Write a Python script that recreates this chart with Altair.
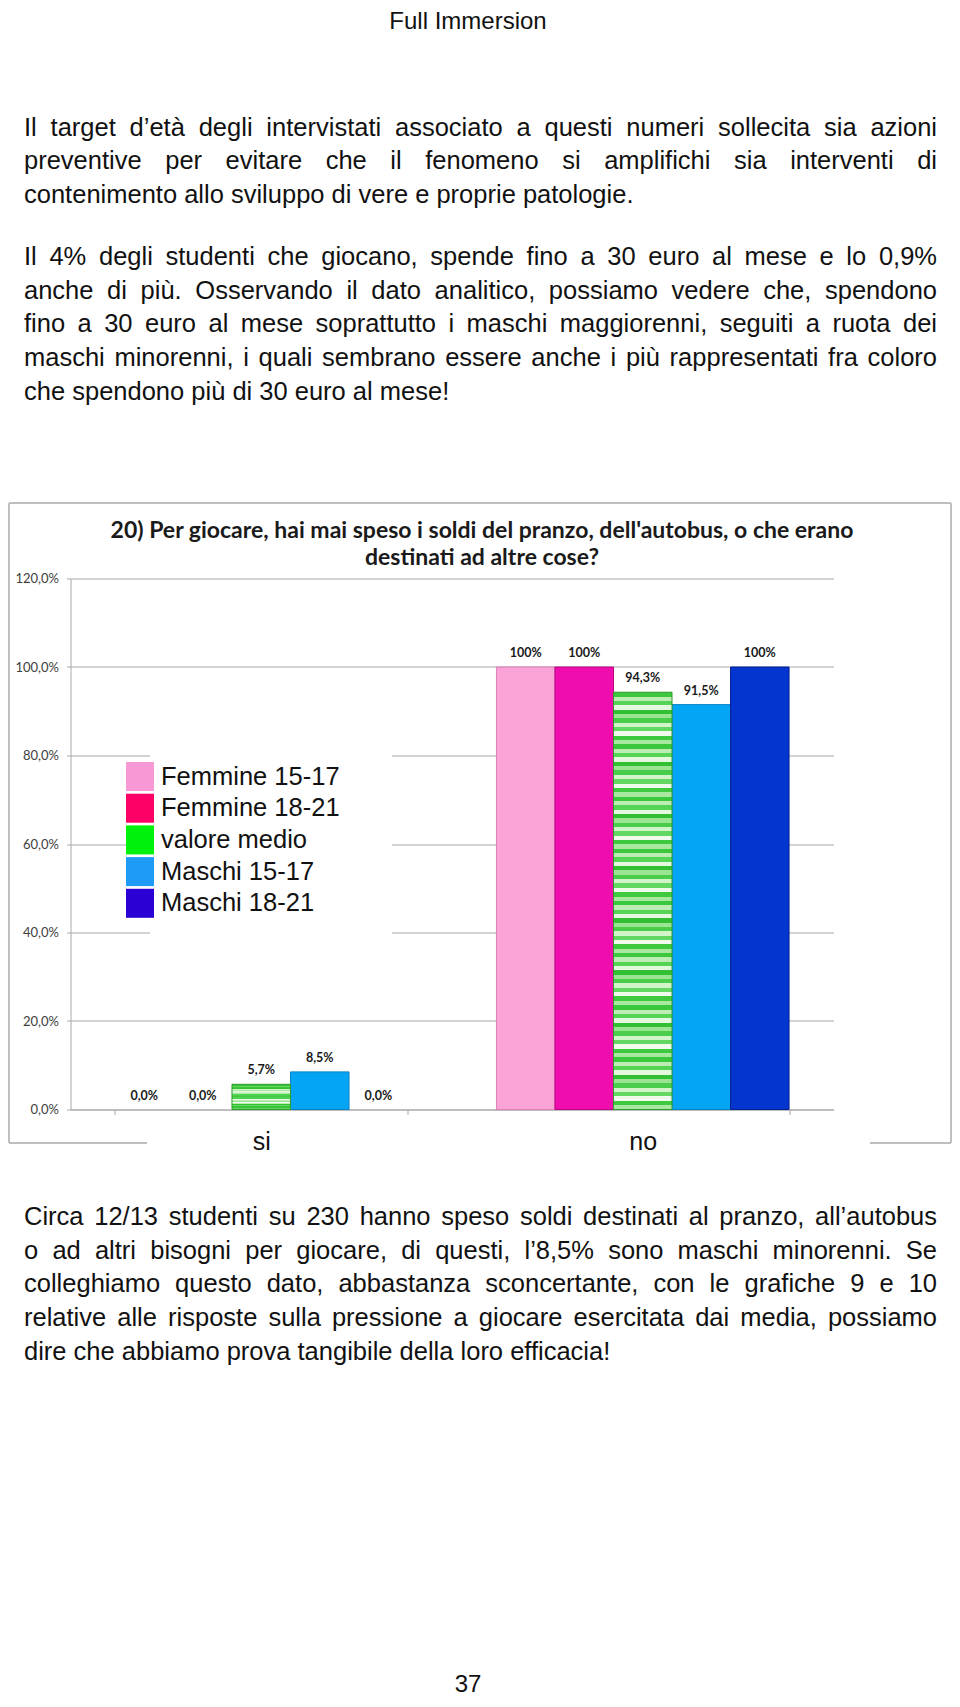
import altair as alt
import pandas as pd

# ---------------- data ----------------
categories = ["si", "no"]
series = ["Femmine 15-17", "Femmine 18-21", "valore medio", "Maschi 15-17", "Maschi 18-21"]
si_values = [0.0, 0.0, 5.7, 8.5, 0.0]
no_values = [100.0, 100.0, 94.3, 91.5, 100.0]
si_labels = ["0,0%", "0,0%", "5,7%", "8,5%", "0,0%"]
no_labels = ["100%", "100%", "94,3%", "91,5%", "100%"]
y_ticks = [0.0, 0.2, 0.4, 0.6, 0.8, 1.0, 1.2]

bar_colors = ["#F9A3D7", "#F00DAE", "#5BD65B", "#05A5F5", "#0535CF"]
bar_edges = ["#E07DBA", "#B8087F", "#2F9A2F", "#0A82C4", "#03228F"]
legend_colors = ["#F799D4", "#FF0066", "#00F20C", "#1E9BF7", "#2A00D4"]
stripe_colors = ["#3CC83C", "#BDEDB4", "#56D456", "#E3F8DE", "#33BF33", "#9BE592",
                 "#4ACD4A", "#D2F4CB", "#62D862", "#F0FBEE", "#3FC93F", "#A8E8A0"]

header = "Full Immersion"
page_number = "37"
chart_title = ["20) Per giocare, hai mai speso i soldi del pranzo, dell'autobus, o che erano",
               "destinati ad altre cose?"]
para1 = ["Il target d\u2019et\u00e0 degli intervistati associato a questi numeri sollecita sia azioni",
         "preventive per evitare che il fenomeno si amplifichi sia interventi di",
         "contenimento allo sviluppo di vere e proprie patologie."]
para2 = ["Il 4% degli studenti che giocano, spende fino a 30 euro al mese e lo  0,9%",
         "anche di pi\u00f9. Osservando il dato analitico, possiamo vedere che, spendono",
         "fino a 30 euro al mese soprattutto i maschi maggiorenni, seguiti a ruota dei",
         "maschi minorenni, i quali sembrano essere anche i pi\u00f9 rappresentati fra coloro",
         "che spendono pi\u00f9 di 30 euro al mese!"]
para3 = ["Circa 12/13 studenti su 230 hanno speso soldi destinati al pranzo, all\u2019autobus",
         "o ad altri bisogni per giocare, di questi, l\u20198,5% sono maschi minorenni. Se",
         "colleghiamo questo dato, abbastanza sconcertante, con le grafiche 9 e 10",
         "relative alle risposte sulla pressione a giocare esercitata dai media, possiamo",
         "dire che abbiamo prova tangibile della loro efficacia!"]

# ---------------- page geometry ----------------
OX, OY = 70.5, 578.5       # page position of plot origin
W, H = 763, 531
PAD = {"left": OX - 8, "top": OY - 8, "right": 960 - 16 - (OX - 8) - W, "bottom": 1691 - (OY - 8) - H}


def rx(X):
    return X - OX


def ry(Y):
    return Y - OY


one = pd.DataFrame({"d": [0]})

# ---------------- bars ----------------
rows = []
for ci, cat in enumerate(categories):
    vals = si_values if ci == 0 else no_values
    labs = si_labels if ci == 0 else no_labels
    for s, v, l in zip(series, vals, labs):
        rows.append({"category": cat, "series": s, "value": v / 100.0, "label": l})
df = pd.DataFrame(rows)

GRID = "#A8A8A8"
x_enc = alt.X("category:N", sort=categories,
              scale=alt.Scale(domain=categories, paddingInner=0.233, paddingOuter=0.1165),
              axis=alt.Axis(title=None, labelAngle=0, labelFont="Liberation Sans", labelFontSize=25,
                            labelColor="#111111", labelBaseline="middle", labelPadding=27,
                            ticks=True, tickBand="extent", tickSize=5, tickColor=GRID,
                            domainColor=GRID, grid=False))
xo_enc = alt.XOffset("series:N", sort=series,
                     scale=alt.Scale(domain=series, paddingInner=0, paddingOuter=0))
y_enc = alt.Y("value:Q", scale=alt.Scale(domain=[0, 1.2], nice=False, zero=True),
              axis=alt.Axis(title=None, values=y_ticks,
                            labelExpr="replace(format(datum.value, '.1%'), '.', ',')",
                            labelFont="Lato", labelFontSize=13, labelColor="#404040",
                            labelPadding=8, tickSize=4, tickColor=GRID, domainColor=GRID,
                            grid=True, gridColor=GRID, gridWidth=1.2))

base = alt.Chart(df)
bars = base.transform_filter("datum.series != 'valore medio' && datum.value > 0").mark_bar(
    strokeWidth=1).encode(
    x=x_enc, xOffset=xo_enc, y=y_enc,
    color=alt.Color("series:N", scale=alt.Scale(domain=series, range=bar_colors), legend=None),
    stroke=alt.Stroke("series:N", scale=alt.Scale(domain=series, range=bar_edges), legend=None),
)

stops = []
n_stripes = 96
for i in range(n_stripes):
    c = stripe_colors[i % len(stripe_colors)]
    stops.append(alt.GradientStop(offset=i / n_stripes, color=c))
    stops.append(alt.GradientStop(offset=(i + 1) / n_stripes, color=c))
stripes = alt.LinearGradient(gradient="linear", stops=stops, x1=0, x2=0, y1=0, y2=1)

green = base.transform_filter("datum.series == 'valore medio' && datum.value > 0").mark_bar(
    fill=stripes, stroke="#2F9A2F", strokeWidth=1).encode(x=x_enc, xOffset=xo_enc, y=y_enc)

labels = base.mark_text(font="Lato", fontSize=12.5, fontWeight="bold", color="#1A1A1A",
                        baseline="middle", dy=-14).encode(
    x=x_enc, xOffset=xo_enc, y=y_enc, text="label:N")

# ---------------- frame ----------------
FRAME = "#BFBFBF"
FL, FR = 9, 951
frame_layers = []
for (x1, x2, y1) in [(FL, FR, 503), (FL, 147, 1143), (870, FR, 1143)]:
    frame_layers.append(alt.Chart(one).mark_rule(color=FRAME, strokeWidth=2).encode(
        x=alt.value(rx(x1)), x2=alt.value(rx(x2)), y=alt.value(ry(y1))))
for xx in [FL, FR]:
    frame_layers.append(alt.Chart(one).mark_rule(color=FRAME, strokeWidth=2).encode(
        x=alt.value(rx(xx)), y=alt.value(ry(503)), y2=alt.value(ry(1143))))

# ---------------- legend (pasted box) ----------------
legend_layers = [alt.Chart(one).mark_rect(fill="white").encode(
    x=alt.value(rx(150)), x2=alt.value(rx(392)), y=alt.value(ry(748)), y2=alt.value(ry(938)))]
for i, (s, c) in enumerate(zip(series, legend_colors)):
    top = 762 + i * 31.7
    legend_layers.append(alt.Chart(one).mark_rect(fill=c).encode(
        x=alt.value(rx(126)), x2=alt.value(rx(154)), y=alt.value(ry(top)), y2=alt.value(ry(top + 29))))
    legend_layers.append(alt.Chart(one).mark_text(
        text=s, font="Liberation Sans", fontSize=25.5, color="#111111", align="left", baseline="middle").encode(
        x=alt.value(rx(161)), y=alt.value(ry(top + 14.5))))

# ---------------- chart title ----------------
title_layers = []
for t, Y in zip(chart_title, [531, 558]):
    title_layers.append(alt.Chart(one).mark_text(
        text=t, font="Lato", fontSize=23, fontWeight="bold", color="#1A1A1A",
        align="center", baseline="middle").encode(x=alt.value(rx(482)), y=alt.value(ry(Y))))

# ---------------- page text ----------------
ARIAL = {" ": 278, "!": 278, "%": 889, "'": 191, "\u2019": 222, ",": 278, "-": 333, ".": 278, "/": 278,
         "?": 556, ":": 278,
         "A": 667, "B": 667, "C": 722, "D": 722, "E": 667, "F": 611, "G": 778, "H": 722, "I": 278,
         "L": 556, "M": 833, "N": 722, "O": 778, "P": 667, "R": 722, "S": 667, "T": 611,
         "a": 556, "b": 556, "c": 500, "d": 556, "e": 556, "f": 278, "g": 556, "h": 556, "i": 222,
         "j": 222, "k": 500, "l": 222, "m": 833, "n": 556, "o": 556, "p": 556, "q": 556, "r": 333,
         "s": 500, "t": 278, "u": 556, "v": 500, "w": 722, "x": 500, "y": 500, "z": 500,
         "\u00e0": 556, "\u00f9": 556, "\u00e8": 556, "\u00e9": 556, "\u00f2": 556}
FS = 25.5
LEFT, RIGHT = 24, 937


def tw(s):
    return sum(ARIAL.get(ch, 556) for ch in s) * FS / 1000.0


word_rows = []


def place(lines, ys):
    for k, (line, Y) in enumerate(zip(lines, ys)):
        words = line.split()
        last = k == len(lines) - 1
        widths = [tw(w) for w in words]
        if last or len(words) < 2:
            gap = tw(" ")
        else:
            gap = max(0.18 * FS, (RIGHT - LEFT - sum(widths)) / (len(words) - 1))
        X = LEFT
        for w, wd in zip(words, widths):
            word_rows.append({"word": w, "px": rx(X), "py": ry(Y)})
            X += wd + gap


place(para1, [127.5, 161.2, 195])
place(para2, [257, 290.7, 324.4, 358, 391.8])
place(para3, [1217, 1250.7, 1284.4, 1318, 1351.8])
words_df = pd.DataFrame(word_rows)

page_text = alt.Chart(words_df).mark_text(
    font="Liberation Sans", fontSize=FS, color="#111111", align="left", baseline="middle").encode(
    x=alt.X("px:Q", scale=None, axis=None), y=alt.Y("py:Q", scale=None, axis=None), text="word:N")

head = alt.Chart(one).mark_text(text=header, font="Liberation Sans", fontSize=24, color="#111111",
                                align="center", baseline="top").encode(
    x=alt.value(rx(468)), y=alt.value(ry(10)))
pnum = alt.Chart(one).mark_text(text=page_number, font="Liberation Sans", fontSize=24, color="#111111",
                                align="center", baseline="middle").encode(
    x=alt.value(rx(468)), y=alt.value(ry(1685)))

chart = alt.layer(
    *frame_layers, bars, green, labels, *legend_layers, *title_layers, page_text, head, pnum
).properties(
    width=W, height=H, padding=PAD, autosize=alt.AutoSizeParams(type="none"),
    background="white"
).configure_view(stroke=None)

chart.save("out.html", embed_options={"renderer": "svg", "actions": False})
